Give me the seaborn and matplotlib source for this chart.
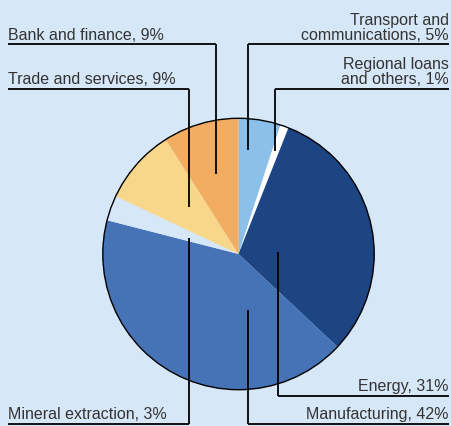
import matplotlib
matplotlib.use("Agg")
import matplotlib.pyplot as plt
import seaborn as sns
from matplotlib.patches import Circle

# ---- data ----
sectors = ["Transport and\ncommunications", "Regional loans\nand others", "Energy",
           "Manufacturing", "Mineral extraction", "Trade and services", "Bank and finance"]
shares = [5, 1, 31, 42, 3, 9, 9]
colors = ["#8bc0ea", "#ffffff", "#1d4584", "#4672b6", "#d6e7f7", "#f8d68a", "#f2ad62"]

sns.set_style("white")
plt.rcParams['font.family'] = ['Liberation Sans', 'DejaVu Sans']

W, H = 451, 427
BG = "#d6e7f7"
fig = plt.figure(figsize=(W / 100, H / 100), dpi=100, facecolor=BG)
ax = fig.add_axes([0, 0, 1, 1])
ax.set_facecolor(BG)

cx, cy, r = 238.5, H - 255, 135.7
ax.pie(shares, colors=colors, startangle=90, counterclock=False,
       center=(cx, cy), radius=r, wedgeprops=dict(linewidth=0),
       frame=True)
ax.add_patch(Circle((cx, cy), r, fill=False, edgecolor="black", lw=1.0))

ax.set_xlim(0, W)
ax.set_ylim(0, H)
ax.set_aspect("equal")
ax.axis("off")

# ---- leader layout (pixel positions, top-down y) ----
# (label index, x_vertical, y_inner, y_horizontal, x_end, text side, text baseline y)
layout = [
    (0, 248.3, 151, 45, 449, "right", 39.5),
    (1, 275.3, 152, 89.5, 449, "right", 83.5),
    (2, 278.3, 253, 396.7, 449, "right", 390.7),
    (3, 248.3, 311, 425, 449, "right", 419),
    (4, 189, 239, 425, 8, "left", 419),
    (5, 189, 208, 89.5, 8, "left", 83.5),
    (6, 216, 175, 45, 8, "left", 39.5),
]
lw = 1.3
for idx, xv, yin, yh, xend, side, yb in layout:
    ax.plot([xv, xv], [H - yin, H - yh], color="black", lw=lw, solid_capstyle="butt")
    ax.plot([xv, xend], [H - yh, H - yh], color="black", lw=lw, solid_capstyle="butt")
    label = f"{sectors[idx]}, {shares[idx]}%"
    ax.text(xend, H - yb, label, ha=side, va="baseline", fontsize=11.5,
            color="#333333", linespacing=0.95, multialignment="right" if side == "right" else "left")

fig.savefig("out.png", dpi=100, facecolor=BG)
